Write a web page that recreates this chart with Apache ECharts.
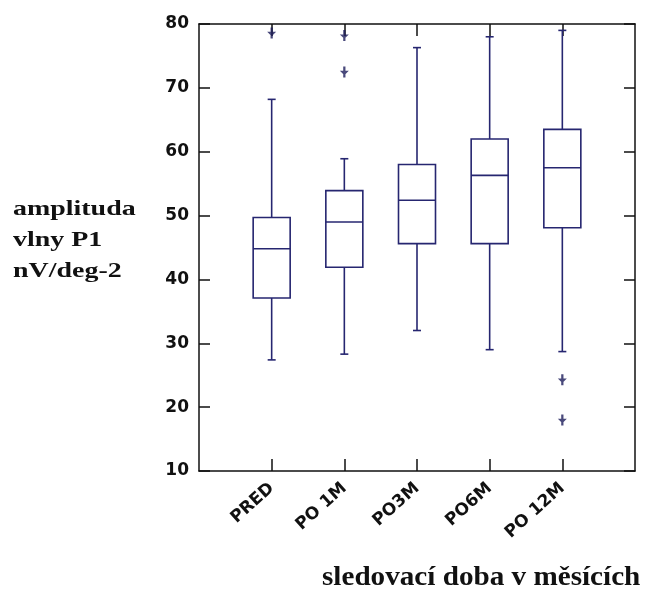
<!DOCTYPE html>
<html>
<head>
<meta charset="utf-8">
<script src="https://cdn.jsdelivr.net/npm/echarts@6/dist/echarts.min.js"></script>
<style>
html, body { margin: 0; padding: 0; background: #fff; }
#chart { width: 648px; height: 593px; }
</style>
</head>
<body>
<div id="chart"></div>
<script>
// kategorie (prazdne okraje kvuli rozmisteni jako v originale)
var categories = ['', 'PRED', 'PO 1M', 'PO3M', 'PO6M', 'PO 12M', ''];
var boxX = [1, 2, 3, 4, 5];
// min, Q1, median, Q3, max
var whiskerLow = [27.4, 28.3, 32.0, 29.0, 28.7];
var q1 = [37.1, 41.9, 45.6, 45.6, 48.1];
var median = [44.8, 49.0, 52.4, 56.3, 57.5];
var q3 = [49.7, 53.9, 58.0, 62.0, 63.5];
var whiskerHigh = [68.2, 58.9, 76.3, 78.0, 79.0];
// odlehle hodnoty
var outlierX = [1, 2, 2, 5, 5];
var outlierY = [78.6, 78.2, 72.5, 24.3, 18.0];
var yTicks = [10, 20, 30, 40, 50, 60, 70, 80];

var boxData = [];
for (var i = 0; i < boxX.length; i++) {
	boxData.push([boxX[i], whiskerLow[i], q1[i], median[i], q3[i], whiskerHigh[i]]);
}
var outData = [];
for (var i = 0; i < outlierX.length; i++) {
	outData.push([outlierX[i], outlierY[i]]);
}

var lineColor = '#262670';

function renderBox(params, api) {
	var x = api.value(0);
	var pMin = api.coord([x, api.value(1)]);
	var pQ1 = api.coord([x, api.value(2)]);
	var pMed = api.coord([x, api.value(3)]);
	var pQ3 = api.coord([x, api.value(4)]);
	var pMax = api.coord([x, api.value(5)]);
	var hw = 18.5; // pulka sirky krabice
	var cw = 4;    // pulka sirky zarazky
	var st = { stroke: lineColor, lineWidth: 1.6, fill: null };
	var cx = pMed[0];
	return {
		type: 'group',
		children: [
			{ type: 'line', shape: { x1: cx, y1: pQ3[1], x2: cx, y2: pMax[1] }, style: st },
			{ type: 'line', shape: { x1: cx, y1: pQ1[1], x2: cx, y2: pMin[1] }, style: st },
			{ type: 'line', shape: { x1: cx - cw, y1: pMax[1], x2: cx + cw, y2: pMax[1] }, style: st },
			{ type: 'line', shape: { x1: cx - cw, y1: pMin[1], x2: cx + cw, y2: pMin[1] }, style: st },
			{ type: 'rect', shape: { x: cx - hw, y: pQ3[1], width: hw * 2, height: pQ1[1] - pQ3[1] },
				style: { stroke: lineColor, lineWidth: 1.6, fill: '#fff' } },
			{ type: 'line', shape: { x1: cx - hw, y1: pMed[1], x2: cx + hw, y2: pMed[1] }, style: st }
		]
	};
}

var myChart = echarts.init(document.getElementById('chart'));

var option = {
	animation: false,
	backgroundColor: '#fff',
	grid: { left: 199, right: 13, top: 24, bottom: 122, containLabel: false },
	xAxis: [{
		type: 'category',
		data: categories,
		boundaryGap: false,
		axisLine: { lineStyle: { color: '#111', width: 1.5 } },
		axisTick: {
			inside: true, length: 12,
			interval: function (idx) { return idx > 0 && idx < 6; },
			lineStyle: { color: '#111', width: 1.5 }
		},
		axisLabel: {
			interval: 0, rotate: 42, margin: 15,
			fontFamily: 'DejaVu Sans', fontWeight: 'bold', fontSize: 17, color: '#111'
		},
		splitLine: { show: false }
	}, {
		type: 'category',
		position: 'top',
		data: categories,
		boundaryGap: false,
		axisLine: { lineStyle: { color: '#111', width: 1.5 } },
		axisTick: {
			inside: true, length: 12,
			interval: function (idx) { return idx > 0 && idx < 6; },
			lineStyle: { color: '#111', width: 1.5 }
		},
		axisLabel: { show: false },
		splitLine: { show: false }
	}],
	yAxis: [{
		type: 'value',
		min: 10, max: 80, interval: 10,
		axisLine: { show: true, lineStyle: { color: '#111', width: 1.5 } },
		axisTick: { show: true, inside: true, length: 11, lineStyle: { color: '#111', width: 1.5 } },
		axisLabel: {
			margin: 10, fontFamily: 'DejaVu Sans', fontWeight: 'bold', fontSize: 17, color: '#111',
			formatter: function (v) { return yTicks.indexOf(v) >= 0 ? String(v) : ''; }
		},
		splitLine: { show: false }
	}, {
		type: 'value',
		position: 'right',
		min: 10, max: 80, interval: 10,
		axisLine: { show: true, lineStyle: { color: '#111', width: 1.5 } },
		axisTick: { show: true, inside: true, length: 11, lineStyle: { color: '#111', width: 1.5 } },
		axisLabel: { show: false },
		splitLine: { show: false }
	}],
	series: [{
		type: 'custom',
		renderItem: renderBox,
		data: boxData,
		encode: { x: 0, y: [1, 2, 3, 4, 5] },
		z: 2
	}, {
		type: 'scatter',
		data: outData,
		symbol: 'path://M-1,-5 L1,-5 L1,5 L-1,5 Z M-4,-1 L4,-1 L0,3 Z',
		symbolSize: [9, 11],
		itemStyle: { color: '#1c1c5a' },
		z: 3
	}],
	graphic: [{
		type: 'text',
		x: 13,
		y: 194,
		scaleX: 1.27,
		style: {
			text: 'amplituda\nvlny P1\nnV/deg-2',
			fontFamily: 'Liberation Serif',
			fontWeight: 'bold',
			fontSize: 22,
			lineHeight: 31,
			fill: '#111'
		}
	}, {
		type: 'text',
		x: 322,
		y: 565,
		scaleX: 1.08,
		style: {
			text: 'sledovací doba v měsících',
			fontFamily: 'Liberation Serif',
			fontWeight: 'bold',
			fontSize: 27,
			fill: '#111'
		}
	}]
};

myChart.setOption(option);
</script>
</body>
</html>
